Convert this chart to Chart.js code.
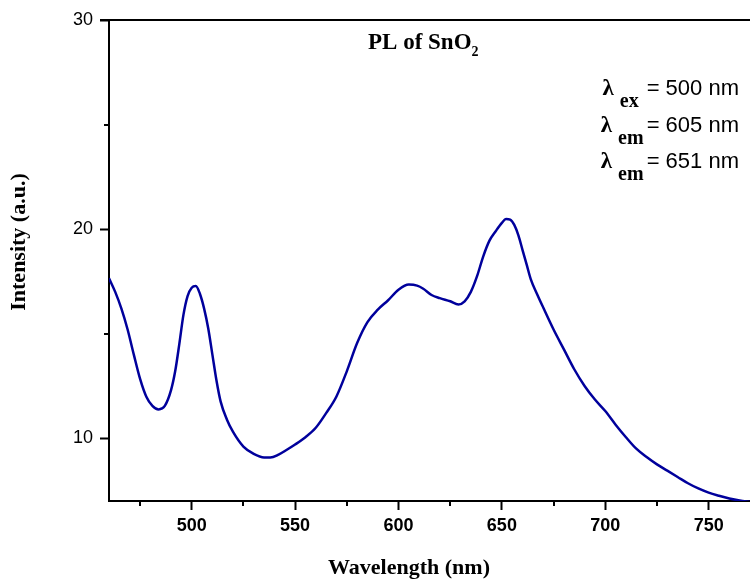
<!DOCTYPE html>
<html>
<head>
<meta charset="utf-8">
<script src="https://cdn.jsdelivr.net/npm/chart.js@4/dist/chart.umd.min.js"></script>
<style>
  html, body { margin: 0; padding: 0; background: #fff; }
  #wrap { width: 750px; height: 583px; position: relative; }
</style>
</head>
<body>
<div id="wrap"><canvas id="chart" width="750" height="583"></canvas></div>
<script>
// spectrum
const wavelengths = [
  460, 463, 466, 469, 472, 475, 478, 481, 484, 487, 490, 492, 494, 496, 498,
  500, 502, 504, 506, 508, 510, 512, 514, 517, 520, 525, 530, 535, 538, 542,
  546, 550, 555, 560, 565, 570, 575, 580, 585, 590, 595, 600, 605, 609, 612,
  616, 620, 625, 629, 632, 635, 638, 641, 644, 647, 650, 652, 654, 656, 658,
  660, 662, 664, 667, 670, 675, 680, 685, 690, 695, 700, 705, 710, 715, 720,
  725, 730, 735, 740, 745, 750, 755, 760, 765, 770
];
const intensities = [
  17.65, 17.0, 16.2, 15.2, 14.0, 12.85, 12.0, 11.55, 11.38, 11.55, 12.3, 13.2, 14.5, 15.9, 16.8,
  17.2, 17.28, 16.9, 16.2, 15.25, 14.0, 12.75, 11.75, 10.9, 10.3, 9.6, 9.25, 9.08, 9.08, 9.22,
  9.45, 9.7, 10.05, 10.5, 11.2, 12.0, 13.2, 14.55, 15.55, 16.15, 16.6, 17.1, 17.35, 17.3, 17.15,
  16.85, 16.7, 16.55, 16.4, 16.55, 17.0, 17.75, 18.7, 19.45, 19.9, 20.3, 20.48, 20.45, 20.2, 19.7,
  19.0, 18.3, 17.6, 16.9, 16.25, 15.2, 14.25, 13.3, 12.5, 11.85, 11.3, 10.65, 10.05, 9.5, 9.1,
  8.75, 8.45, 8.15, 7.85, 7.6, 7.4, 7.25, 7.12, 7.02, 6.95
];

const xTickValues = [500, 550, 600, 650, 700, 750];
const xMinorValues = [475, 525, 575, 625, 675, 725];
const yTickValues = [10, 20, 30];
const yMinorValues = [15, 25];

const xRange = [460, 770];
const yRange = [7, 30];

const titleText = "PL of SnO";
const titleSub = "2";
const xTitle = "Wavelength (nm)";
const yTitle = "Intensity (a.u.)";
const notes = [
  { sub: "ex", value: "= 500 nm" },
  { sub: "em", value: "= 605 nm" },
  { sub: "em", value: "= 651 nm" }
];

// draws the bits Chart.js has no option for
const extras = {
  id: "extras",
  afterDraw(chart) {
    const ctx = chart.ctx;
    const area = chart.chartArea;
    const xs = chart.scales.x;
    const ys = chart.scales.y;
    ctx.save();
    ctx.strokeStyle = "#000";
    ctx.fillStyle = "#000";
    ctx.lineWidth = 2;

    // top frame line
    ctx.beginPath();
    ctx.moveTo(area.left - 9, area.top);
    ctx.lineTo(area.right, area.top);
    ctx.stroke();

    // minor ticks
    ctx.beginPath();
    xMinorValues.forEach(v => {
      const px = Math.round(xs.getPixelForValue(v));
      ctx.moveTo(px, area.bottom);
      ctx.lineTo(px, area.bottom + 5);
    });
    yMinorValues.forEach(v => {
      const py = Math.round(ys.getPixelForValue(v));
      ctx.moveTo(area.left, py);
      ctx.lineTo(area.left - 5, py);
    });
    ctx.stroke();

    // axis titles
    ctx.font = "bold 22px 'Liberation Serif'";
    ctx.textAlign = "center";
    ctx.textBaseline = "alphabetic";
    ctx.fillText(xTitle, 409, 574);

    ctx.save();
    ctx.translate(25, 242);
    ctx.rotate(-Math.PI / 2);
    ctx.fillText(yTitle, 0, 0);
    ctx.restore();

    // title
    ctx.textAlign = "left";
    ctx.font = "bold 23px 'Liberation Serif'";
    ctx.fillText(titleText, 368, 49);
    const tw = ctx.measureText(titleText).width;
    ctx.font = "bold 14px 'Liberation Serif'";
    ctx.fillText(titleSub, 368 + tw, 56);

    // lambda notes
    const rightEdge = 739;
    notes.forEach((n, i) => {
      const base = 95 + i * 36.5;
      ctx.textAlign = "right";
      ctx.font = "22px 'Liberation Sans'";
      ctx.fillText(n.value, rightEdge, base);
      const vw = ctx.measureText(n.value).width;
      ctx.font = "bold 20px 'Liberation Serif'";
      const subRight = rightEdge - vw - (n.sub === "ex" ? 8 : 3);
      ctx.fillText(n.sub, subRight, base + 12);
      const sw = ctx.measureText(n.sub).width;
      ctx.font = "bold 23px 'Liberation Serif'";
      ctx.fillText("\u03BB", subRight - sw - 6, base);
    });
    ctx.restore();
  }
};

function mapChart() {
  const holder = document.getElementById("chart");
  new Chart(holder, {
    type: "line",
    data: {
      datasets: [{
        data: wavelengths.map((w, i) => ({ x: w, y: intensities[i] })),
        borderColor: "#00009c",
        borderWidth: 2.5,
        pointRadius: 0,
        cubicInterpolationMode: "monotone",
        fill: false
      }]
    },
    options: {
      responsive: false,
      animation: false,
      devicePixelRatio: 1,
      layout: { padding: { top: 20, right: 0, left: 0, bottom: 0 } },
      plugins: { legend: { display: false }, tooltip: { enabled: false } },
      scales: {
        x: {
          type: "linear",
          min: xRange[0],
          max: xRange[1],
          afterBuildTicks: s => { s.ticks = xTickValues.map(v => ({ value: v })); },
          afterFit: s => { s.height = 82; },
          grid: { drawOnChartArea: false, drawTicks: true, tickLength: 9, tickWidth: 2, tickColor: "#000" },
          border: { color: "#000", width: 2 },
          ticks: {
            color: "#000",
            padding: 5,
            maxRotation: 0,
            font: { family: "'Liberation Sans'", weight: "bold", size: 18 }
          }
        },
        y: {
          min: yRange[0],
          max: yRange[1],
          afterBuildTicks: s => { s.ticks = yTickValues.map(v => ({ value: v })); },
          afterFit: s => { s.width = 109; },
          grid: { drawOnChartArea: false, drawTicks: true, tickLength: 9, tickWidth: 2, tickColor: "#000" },
          border: { color: "#000", width: 2 },
          ticks: {
            color: "#000",
            padding: 7,
            font: { family: "'Liberation Sans'", size: 18 }
          }
        }
      }
    },
    plugins: [extras]
  });
}

window.addEventListener("DOMContentLoaded", mapChart);
</script>
</body>
</html>
